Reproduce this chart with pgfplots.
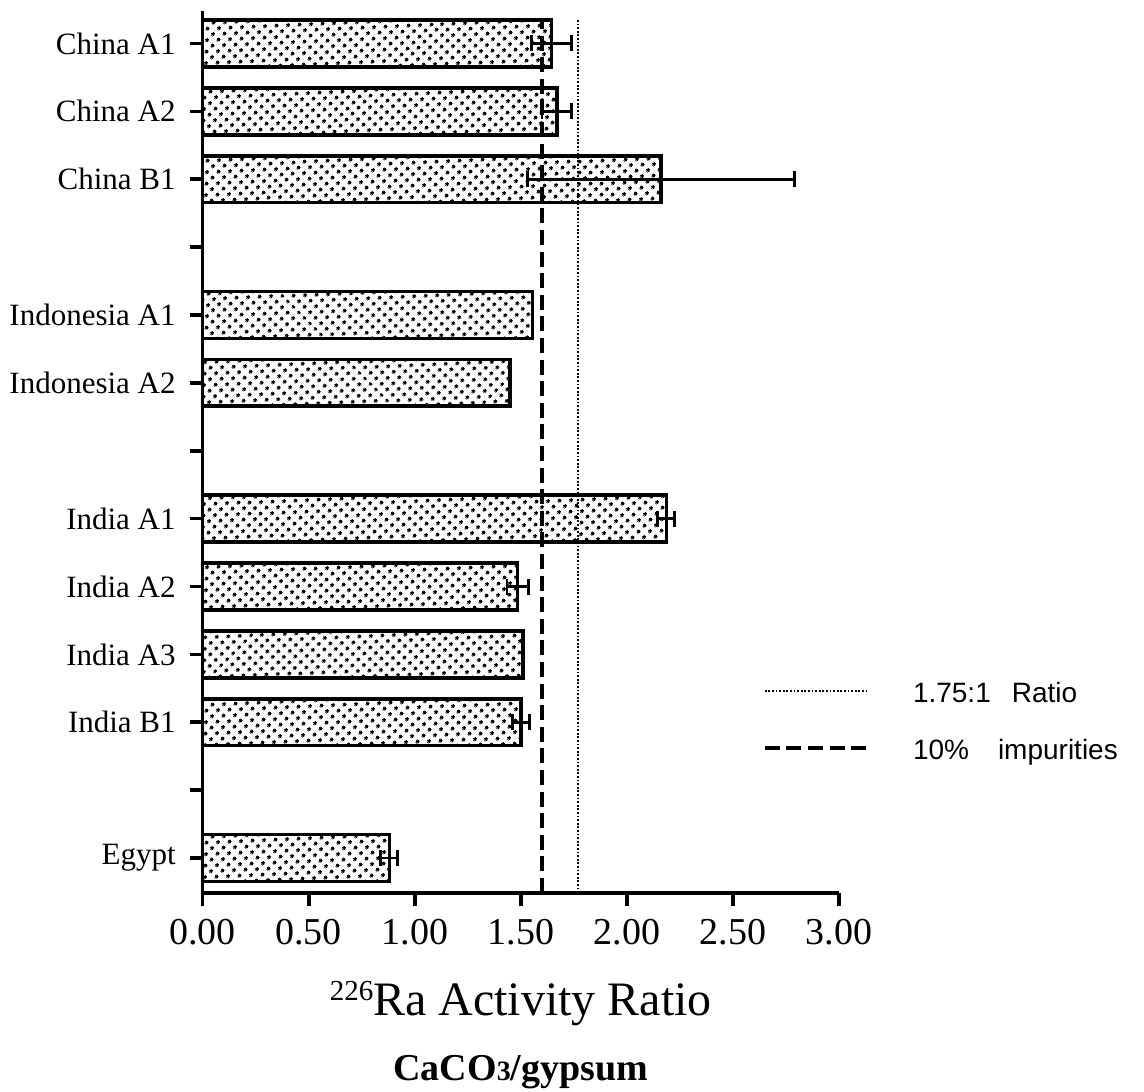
\documentclass[border=0pt]{standalone}
\usepackage{fontspec}
\setmainfont{Liberation Serif}
\newfontfamily\sansf{Liberation Sans}
\usepackage{pgfplots}
\usepackage{pgfplotstable}
\pgfplotsset{compat=1.18}
\usetikzlibrary{patterns.meta}

\pgfplotstableread{
y x e
12 1.645 0.095
11 1.670 0.070
10 2.160 0.630
5 2.186 0.040
4 1.485 0.050
2 1.500 0.040
0 0.880 0.040
}\errdata
\pgfplotstableread{
y x
8 1.554
7 1.448
3 1.510
}\noerrdata

\begin{document}
\begin{tikzpicture}
\begin{axis}[name=ax, scale only axis, width=318.15pt, height=441.15pt,
  xmin=0, xmax=3, ymin=-0.515, ymax=12.483,
  axis x line*=bottom, axis y line*=left,
  axis line style={line width=1.8pt, black},
  xtick={0,0.5,1,1.5,2,2.5,3}, ytick={0,1,...,12},
  yticklabels={Egypt,,India B1,India A3,India A2,India A1,,Indonesia A2,Indonesia A1,,China B1,China A2,China A1},
  tick align=outside, major tick length=6.5pt,
  tick style={line width=1.8pt, black},
  xticklabel shift=3pt, yticklabel shift=3.5pt,
  xticklabel style={font=\fontsize{19}{19}\selectfont, /pgf/number format/.cd, fixed, fixed zerofill, precision=2, assume math mode=true},
  yticklabel style={font=\fontsize{15.5}{15.5}\selectfont},
  legend style={draw=none, fill=none, at={(rel axis cs:0.879,0.1909)}, anchor=west, inner sep=0pt,
    font=\sansf\fontsize{14}{14}\selectfont, row sep=16pt, column sep=21.5pt,
    nodes={inner sep=0pt, text height=9.5pt, text depth=3pt}},
  legend cell align=left,
  legend image code/.code={\draw[#1] (0pt,2.5pt) -- (51.5pt,2.5pt);},
]
\addplot[xbar, bar width=0.69, bar shift=0pt, draw=black, line width=1.8pt,
  pattern={Dots[angle=45,distance=4pt,radius=1pt]}, forget plot,
  error bars/.cd, x dir=both, x explicit,
  error bar style={line width=1.4pt, black},
  error mark options={rotate=90, line width=1.4pt, mark size=4pt, black}]
  table[x=x, y=y, x error=e] {\errdata};
\addplot[xbar, bar width=0.69, bar shift=0pt, draw=black, line width=1.8pt,
  pattern={Dots[angle=45,distance=4pt,radius=1pt]}, forget plot]
  table[x=x, y=y] {\noerrdata};
\addplot[black, line width=1.1pt, dash pattern=on 0.9pt off 0.9pt] coordinates {(1.77,-0.515) (1.77,12.34)};
\addlegendentry{1.75:1\hspace{10.5pt}Ratio}
\addplot[black, line width=2.3pt, dash pattern=on 7.5pt off 3.3pt] coordinates {(1.60,-0.515) (1.60,12.34)};
\addlegendentry{10\%\hspace{14.5pt}impurities}
\end{axis}
\node[anchor=base, yshift=-61pt] at (ax.south)
  {\fontsize{24}{24}\selectfont\raisebox{7.5pt}{\fontsize{14.5}{14.5}\selectfont 226}Ra Activity Ratio};
\node[anchor=base, yshift=-93.5pt] at (ax.south)
  {\bfseries\fontsize{19}{19}\selectfont CaCO{\fontsize{14}{14}\selectfont 3}/gypsum};
\pgfresetboundingbox
\useasboundingbox (ax.south west) ++(-101.35pt,-99pt) rectangle ++(572pt,545.5pt);
\end{tikzpicture}
\end{document}
